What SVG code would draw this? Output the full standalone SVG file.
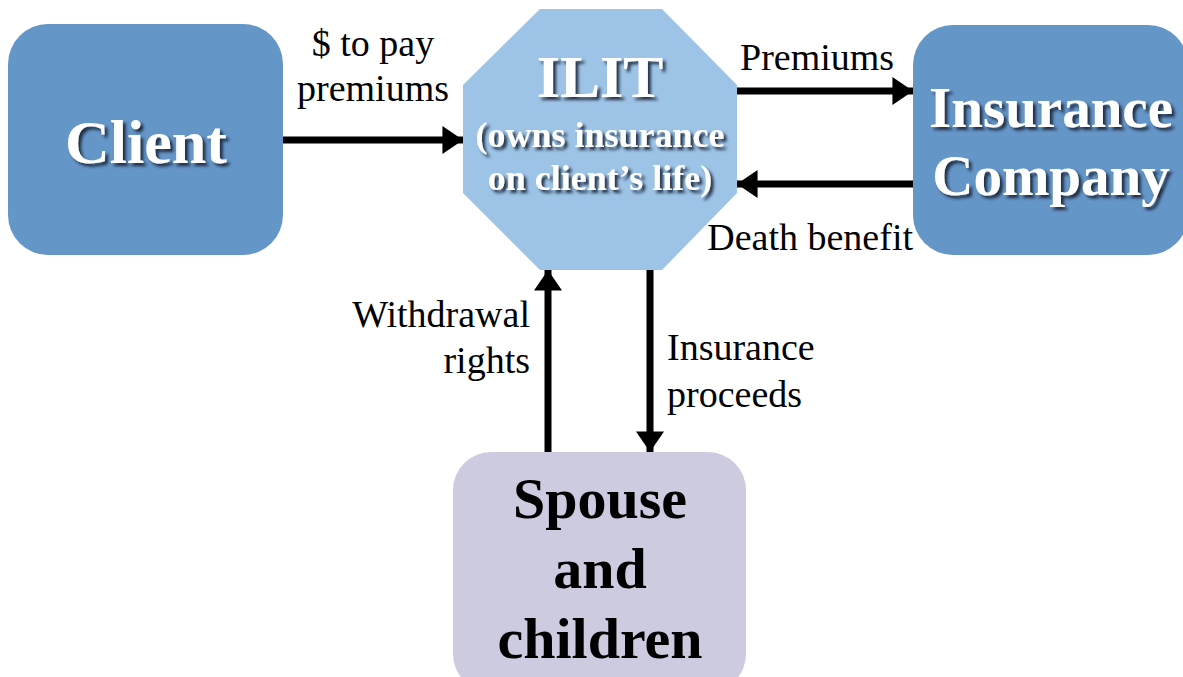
<svg xmlns="http://www.w3.org/2000/svg" width="1183" height="677" viewBox="0 0 1183 677">
<style>
.lbl{font-family:"Liberation Serif","Times New Roman",serif;font-size:38px;fill:#000}
.nt{font-family:"Liberation Serif","Times New Roman",serif;font-weight:bold;fill:#fff;text-anchor:middle}
.bt{font-family:"Liberation Serif","Times New Roman",serif;font-weight:bold;fill:#000;text-anchor:middle;font-size:58px}
.conn{stroke:#000;stroke-width:7;fill:none}
</style>
<defs>
<filter id="sh" x="-10%" y="-20%" width="130%" height="150%">
<feDropShadow dx="3" dy="3" stdDeviation="1.6" flood-color="#142238" flood-opacity="0.9"/>
</filter>
<marker id="ah" markerWidth="4" markerHeight="4" refX="2.2" refY="1.5" orient="auto" markerUnits="strokeWidth" viewBox="0 0 2.2 3">
<path d="M0,0 L2.2,1.5 L0,3 z" fill="#000"/>
</marker>
</defs>
<rect width="1183" height="677" fill="#fff"/>
<g id="connectors">
<line class="conn" x1="283" y1="140" x2="463" y2="140" marker-end="url(#ah)"/>
<line class="conn" x1="737" y1="91" x2="913" y2="91" marker-end="url(#ah)"/>
<line class="conn" x1="913" y1="184" x2="737" y2="184" marker-end="url(#ah)"/>
<line class="conn" x1="548" y1="452" x2="548" y2="270" marker-end="url(#ah)"/>
<line class="conn" x1="650" y1="270" x2="650" y2="452" marker-end="url(#ah)"/>
<text class="lbl" x="373" y="56" text-anchor="middle">$ to pay</text>
<text class="lbl" x="373" y="101" text-anchor="middle">premiums</text>
<text class="lbl" x="740" y="70">Premiums</text>
<text class="lbl" x="913" y="250" text-anchor="end">Death benefit</text>
<text class="lbl" x="530" y="327" text-anchor="end">Withdrawal</text>
<text class="lbl" x="530" y="373" text-anchor="end">rights</text>
<text class="lbl" x="667" y="360">Insurance</text>
<text class="lbl" x="667" y="407">proceeds</text>
</g>
<g id="client">
<rect x="8" y="24" width="275" height="231" rx="40" fill="#6596c8"/>
<text class="nt" x="146" y="163" font-size="62" filter="url(#sh)">Client</text>
</g>
<g id="ilit">
<polygon points="540,9 662,9 737,85 737,193 662,270 540,270 463,193 463,85" fill="#9dc3e6"/>
<text class="nt" x="600" y="97" font-size="60" filter="url(#sh)">ILIT</text>
<text class="nt" x="600" y="147" font-size="36" filter="url(#sh)">(owns insurance</text>
<text class="nt" x="600" y="190" font-size="36" filter="url(#sh)">on client’s life)</text>
</g>
<g id="insurance">
<rect x="913" y="25" width="275" height="230" rx="40" fill="#6596c8"/>
<text class="nt" x="1051" y="127" font-size="57" filter="url(#sh)">Insurance</text>
<text class="nt" x="1051" y="195" font-size="57" filter="url(#sh)">Company</text>
</g>
<g id="spouse">
<rect x="453" y="452" width="293" height="240" rx="38" fill="#cccbe0"/>
<text class="bt" x="600" y="518">Spouse</text>
<text class="bt" x="600" y="588">and</text>
<text class="bt" x="600" y="658">children</text>
</g>
</svg>
